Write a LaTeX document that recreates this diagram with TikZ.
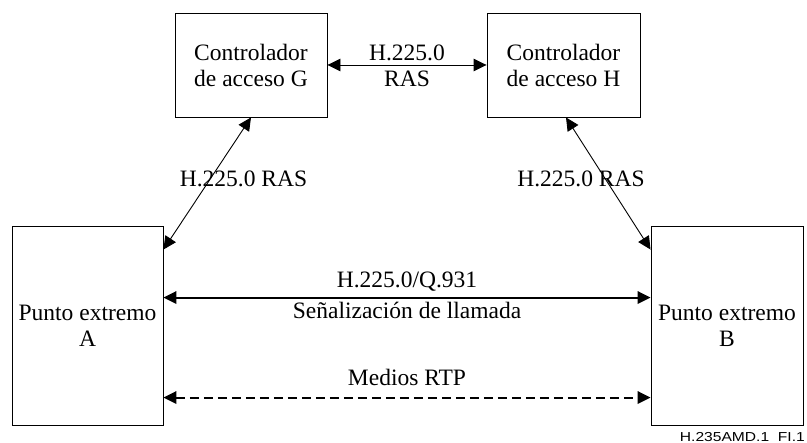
\documentclass[tikz,border=0pt]{standalone}
\usepackage{fontspec}
\setmainfont{Liberation Serif}
\newfontfamily\capfont[FakeStretch=1.2]{Liberation Sans}
\usetikzlibrary{arrows.meta,calc}

\begin{document}
\begin{tikzpicture}[x=1pt,y=-1pt,
  box/.style={draw, line width=0.9pt, inner sep=0pt, align=center,
              font=\fontsize{23.5}{26}\selectfont},
  lbl/.style={anchor=base, inner sep=0pt, font=\fontsize{23.5}{26}\selectfont},
  link/.style={line width=0.9pt, {Triangle[length=13pt,width=12.5pt]}-{Triangle[length=13pt,width=12.5pt]}},
  sig/.style={link, line width=2pt},
  media/.style={sig, dash pattern=on 9pt off 5pt},
]
\useasboundingbox (0,0) rectangle (807,443);

% gatekeepers and endpoints
\node[box, minimum width=152pt, minimum height=104pt] (G) at (251,65) {Controlador\\de acceso G};
\node[box, minimum width=153pt, minimum height=104pt] (H) at (563.5,65) {Controlador\\de acceso H};
\node[box, minimum width=151pt, minimum height=199pt] (A) at (87.5,325.5) {Punto extremo\\A};
\node[box, minimum width=152pt, minimum height=199pt] (B) at (727,325.5) {Punto extremo\\B};

% attachment points on the endpoint boxes
\coordinate (a1) at ($(A.north east)+(0,24)$);
\coordinate (b1) at ($(B.north west)+(0,24)$);
\coordinate (a2) at ($(A.north east)+(0,72)$);
\coordinate (b2) at ($(B.north west)+(0,72)$);
\coordinate (a3) at ($(A.north east)+(0,172)$);
\coordinate (b3) at ($(B.north west)+(0,172)$);
\coordinate (h1) at ($(H.south)+(2.5,0)$);

% connectors
\draw[link] (G.east) -- (H.west);
\draw[link] (a1) -- (G.south);
\draw[link] (b1) -- (h1);
\draw[sig] (a2) -- (b2);
\draw[media] (a3) -- (b3);

% labels
\node[lbl] (gh1) at (407,61) {H.225.0};
\node[lbl] (gh2) at (407,87) {RAS};
\node[lbl] (ag) at (243.5,187) {H.225.0 RAS};
\node[lbl] (bh) at (581,187) {H.225.0 RAS};
\node[lbl] (ab1) at (407,288) {H.225.0/Q.931};
\node[lbl] (ab2) at (407,319) {Señalización de llamada};
\node[lbl] (ab3) at (407,386) {Medios RTP};
\node[anchor=base east, inner sep=0pt, font=\capfont\fontsize{13}{15}\selectfont] (fig) at (805,441.5) {H.235AMD.1\ \ FI.1};
\end{tikzpicture}
\end{document}
